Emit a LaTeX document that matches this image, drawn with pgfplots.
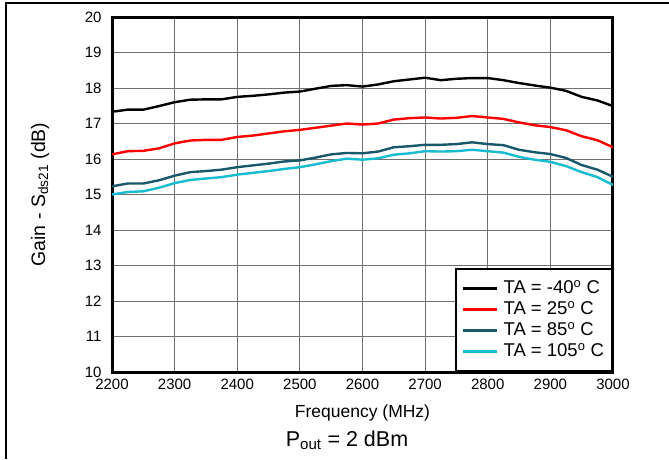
\documentclass[border=0pt]{standalone}
\usepackage{fontspec}
\setmainfont{Liberation Sans}
\usepackage{pgfplots}
\pgfplotsset{compat=1.18}
\definecolor{c85}{HTML}{17596B}
\definecolor{c105}{HTML}{17BCD0}
\definecolor{gridc}{HTML}{707070}
\begin{document}
\begin{tikzpicture}
\useasboundingbox (0pt,0pt) rectangle (669pt,459pt);
\draw[line width=1.2pt] (6pt,0pt) -- (6pt,456pt) -- (669pt,456pt);
\begin{axis}[at={(112pt,87pt)}, anchor=south west, width=501pt, height=355pt, scale only axis,
  xmin=2200, xmax=3000, ymin=10, ymax=20,
  xtick={2200,2300,...,3000}, ytick={10,11,...,20},
  grid=major, major grid style={draw=gridc, line width=1pt},
  axis line style={line width=3pt}, major tick length=0pt,
  tick label style={font=\fontsize{15}{17}\selectfont},
  /pgf/number format/assume math mode=true,
  /pgf/number format/set thousands separator={},
  xticklabel style={yshift=-3.5pt}, yticklabel style={xshift=-7pt},
  xlabel={Frequency (MHz)},
  xlabel style={font=\fontsize{17.5}{20}\selectfont, at={(axis description cs:0.5,-0.1155)}, anchor=center},
  ylabel={Gain - S\textsubscript{ds21} (dB)},
  ylabel style={font=\fontsize{19.5}{22}\selectfont, at={(axis description cs:-0.1437,0.5)}, anchor=center},
  legend cell align=left,
  legend image code/.code={\draw[#1] (0pt,0pt) -- (34pt,0pt);},
  legend style={at={(rel axis cs:1,0)}, anchor=south east, draw=black, line width=2pt,
    font=\fontsize{18.5}{21}\selectfont, row sep=0pt, column sep=3pt, inner xsep=6pt, inner ysep=9pt,
    nodes={inner sep=2pt, text height=13.5pt, text depth=3.5pt}},
]
\addplot[black, line width=2.4pt] table {
2200 17.33
2225 17.39
2250 17.39
2275 17.49
2300 17.60
2325 17.67
2350 17.68
2375 17.68
2400 17.75
2425 17.78
2450 17.82
2475 17.87
2500 17.90
2525 17.98
2550 18.06
2575 18.08
2600 18.04
2625 18.10
2650 18.19
2675 18.24
2700 18.29
2725 18.22
2750 18.26
2775 18.28
2800 18.28
2825 18.22
2850 18.14
2875 18.07
2900 18.01
2925 17.92
2950 17.75
2975 17.65
3000 17.49
};
\addlegendentry{TA = -40\textsuperscript{o} C}
\addplot[red, line width=2.4pt] table {
2200 16.13
2225 16.22
2250 16.23
2275 16.30
2300 16.44
2325 16.52
2350 16.54
2375 16.54
2400 16.62
2425 16.66
2450 16.72
2475 16.78
2500 16.82
2525 16.88
2550 16.94
2575 17.00
2600 16.97
2625 17.00
2650 17.11
2675 17.15
2700 17.17
2725 17.14
2750 17.16
2775 17.21
2800 17.17
2825 17.13
2850 17.03
2875 16.95
2900 16.90
2925 16.81
2950 16.64
2975 16.53
3000 16.33
};
\addlegendentry{TA = 25\textsuperscript{o} C}
\addplot[c85, line width=2.4pt] table {
2200 15.23
2225 15.31
2250 15.31
2275 15.40
2300 15.53
2325 15.63
2350 15.66
2375 15.70
2400 15.77
2425 15.82
2450 15.87
2475 15.93
2500 15.96
2525 16.04
2550 16.13
2575 16.17
2600 16.16
2625 16.21
2650 16.33
2675 16.36
2700 16.40
2725 16.40
2750 16.42
2775 16.47
2800 16.42
2825 16.39
2850 16.26
2875 16.19
2900 16.14
2925 16.03
2950 15.83
2975 15.70
3000 15.50
};
\addlegendentry{TA = 85\textsuperscript{o} C}
\addplot[c105, line width=2.4pt] table {
2200 15.00
2225 15.07
2250 15.09
2275 15.19
2300 15.32
2325 15.41
2350 15.45
2375 15.49
2400 15.56
2425 15.61
2450 15.66
2475 15.72
2500 15.77
2525 15.85
2550 15.94
2575 16.01
2600 15.98
2625 16.02
2650 16.12
2675 16.16
2700 16.22
2725 16.21
2750 16.22
2775 16.26
2800 16.22
2825 16.18
2850 16.06
2875 15.98
2900 15.92
2925 15.80
2950 15.63
2975 15.49
3000 15.27
};
\addlegendentry{TA = 105\textsuperscript{o} C}
\end{axis}
\node[font=\fontsize{21.5}{24}\selectfont] at (347pt,19pt) {P\textsubscript{out} = 2 dBm};
\end{tikzpicture}
\end{document}
